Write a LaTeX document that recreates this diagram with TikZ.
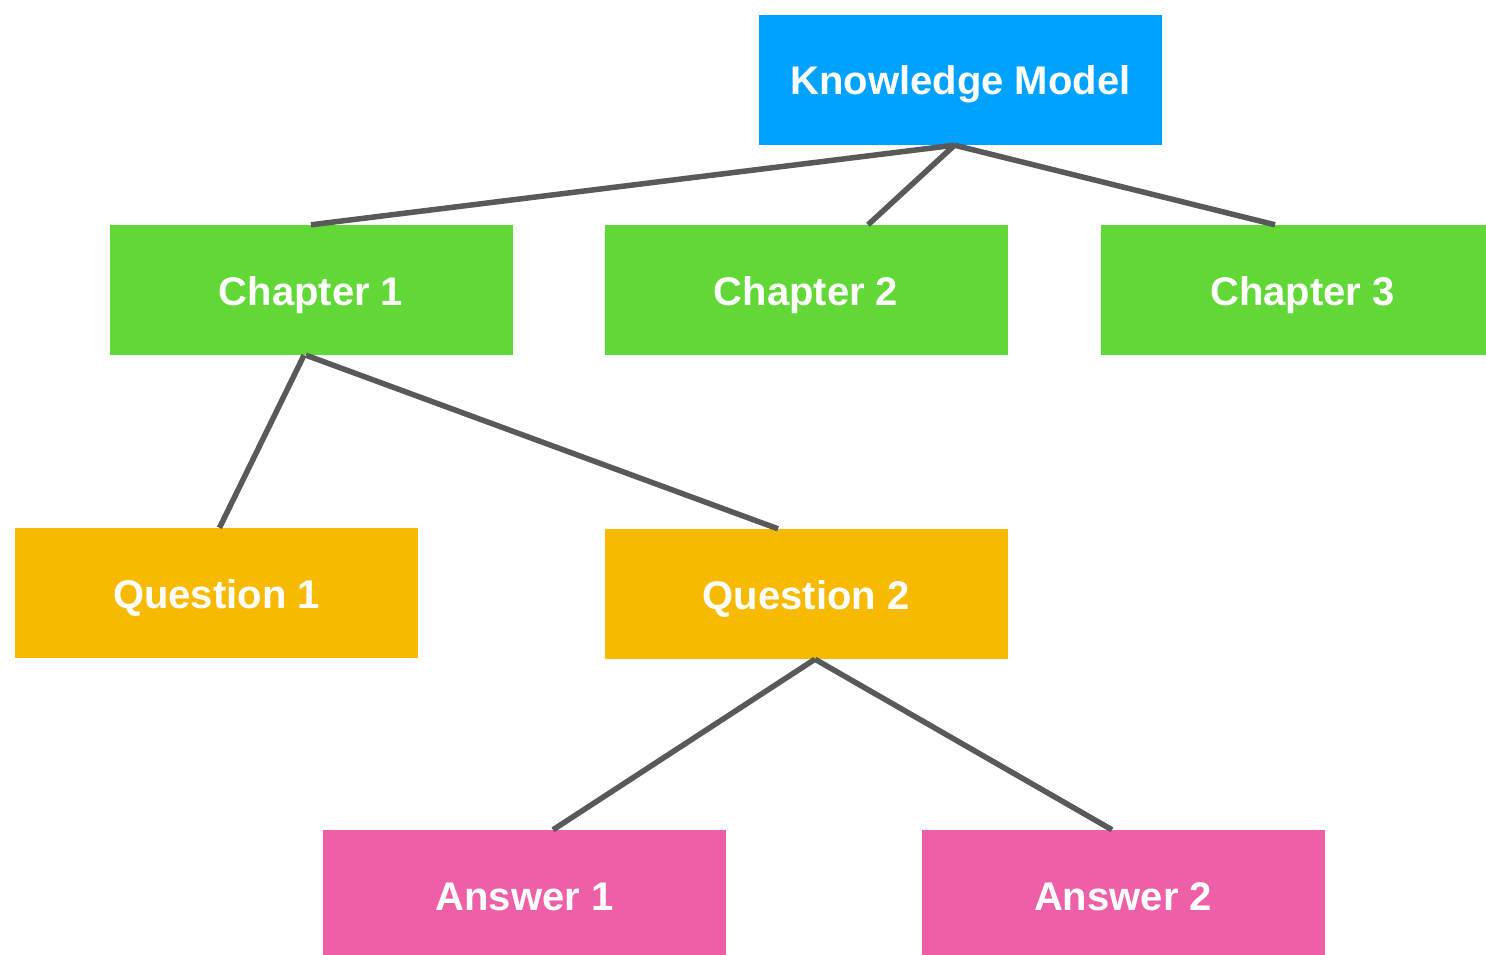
\documentclass[tikz,border=0pt]{standalone}
\usepackage{fontspec}
\setmainfont{Liberation Sans}
\usetikzlibrary{calc}
\definecolor{kmblue}{HTML}{00A2FF}
\definecolor{chgreen}{HTML}{61D836}
\definecolor{qorange}{HTML}{F8BA00}
\definecolor{apink}{HTML}{EF5FA7}
\definecolor{linegray}{HTML}{595959}
\tikzset{
  box/.style={draw=none, minimum width=403pt, minimum height=130pt, inner sep=0pt,
    text height=30pt, text depth=0pt,
    text=white, font=\fontsize{40}{44}\selectfont\bfseries},
  link/.style={draw=linegray, line width=5.5pt}
}
\begin{document}
\begin{tikzpicture}[x=1pt,y=-1pt]
\useasboundingbox (0,0) rectangle (1486,955);
\clip (0,0) rectangle (1486,955);
\fill[white] (0,0) rectangle (1486,955);
\node[box, fill=kmblue] (km) at (960.5,80) {Knowledge Model};
\node[box, fill=chgreen] (ch1) at (311,290) {Chapter 1};
\node[box, fill=chgreen] (ch2) at (806,290) {Chapter 2};
\node[box, fill=chgreen] (ch3) at (1302.5,290) {Chapter 3};
\node[box, fill=qorange] (q1) at (216.5,593) {Question 1};
\node[box, fill=qorange] (q2) at (806,594) {Question 2};
\node[box, fill=apink] (a1) at (524.5,895) {Answer 1};
\node[box, fill=apink] (a2) at (1123,895) {Answer 2};
\draw[link] ([xshift=-6pt]km.south) -- (ch1.north);
\draw[link] ([xshift=-6pt]km.south) -- ([xshift=62pt]ch2.north);
\draw[link] ([xshift=-6pt]km.south) -- ([xshift=-27.5pt]ch3.north);
\draw[link] ([xshift=-7pt]ch1.south) -- ([xshift=3pt]q1.north);
\draw[link] ([xshift=-5pt]ch1.south) -- ([xshift=-28pt]q2.north);
\draw[link] ([xshift=9pt]q2.south) -- ([xshift=28.5pt]a1.north);
\draw[link] ([xshift=9pt]q2.south) -- ([xshift=-11pt]a2.north);
\end{tikzpicture}
\end{document}
